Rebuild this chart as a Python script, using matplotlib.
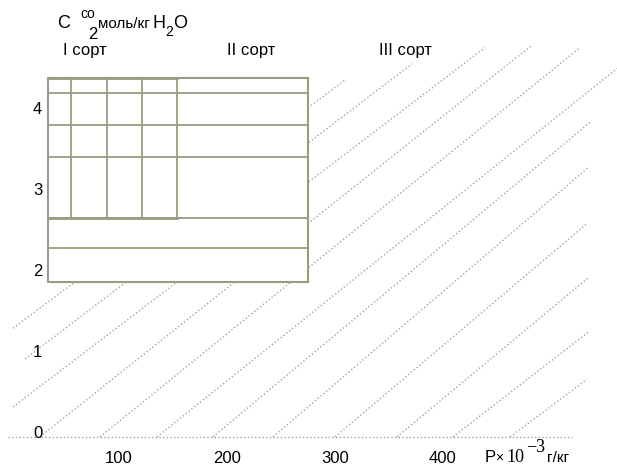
import matplotlib
matplotlib.use('Agg')
import matplotlib.pyplot as plt
from matplotlib.patches import Rectangle

plt.rcParams['font.family'] = ['Liberation Sans', 'DejaVu Sans']

# axis ticks
x_ticks = [100, 200, 300, 400]
y_ticks = [0, 1, 2, 3, 4]

# dotted diagonal lines: start and end points
line_x0 = [1.9, 13.0, 1.9, 26.9, 82.5, 135.3, 187.2, 242.8, 300.3, 357.7, 409.6, 462.5]
line_y0 = [1.28, 0.90, 0.31, -0.06, -0.06, -0.06, -0.06, -0.06, -0.06, -0.06, -0.06, -0.06]
line_x1 = [309.5, 371.6, 439.3, 482.9, 527.3, 573.7, 536.6, 534.8, 533.8, 534.8, 534.8, 533.8]
line_y1 = [4.34, 4.54, 4.74, 4.77, 4.74, 4.61, 3.82, 3.26, 2.57, 1.90, 1.23, 0.65]

# baseline
base_x = [-2.8, 520.0]
base_y = [-0.062, -0.062]

# table (rectangle grid)
rect_x = [34, 275]
rect_y = [1.85, 4.36]
row_lines = [4.18, 3.79, 3.39, 2.64, 2.27]
sub_cols = [56, 89, 121, 154]
sub_bottom = 2.64

# sort labels
sort_names = ['I сорт', 'II сорт', 'III сорт']
sort_x = [68.6, 222.4, 366.0]
sort_y = 4.71

grid_col = '#9b9b82'
dot_col = '#a5a58f'

fig = plt.figure(figsize=(6.17, 4.66), dpi=100)
ax = fig.add_axes([0, 0, 1, 1])
ax.set_xlim(-10.19, 561.6)
ax.set_ylim(-0.419, 5.327)

for x0, y0, x1, y1 in zip(line_x0, line_y0, line_x1, line_y1):
    ax.plot([x0, x1], [y0, y1], ls=':', lw=1.0, color=dot_col, zorder=1)
ax.plot(base_x, base_y, ls=':', lw=1.0, color=dot_col, zorder=1)

# white table covering the lines
ax.add_patch(Rectangle((rect_x[0], rect_y[0]), rect_x[1] - rect_x[0], rect_y[1] - rect_y[0],
                       facecolor='white', edgecolor=grid_col, lw=1.5, zorder=3))
for yy in row_lines:
    ax.plot(rect_x, [yy, yy], color=grid_col, lw=1.3, zorder=4)
for xx in sub_cols:
    ax.plot([xx, xx], [sub_bottom, rect_y[1]], color=grid_col, lw=1.3, zorder=4)
ax.plot([rect_x[0], sub_cols[-1]], [sub_bottom, sub_bottom], color=grid_col, lw=2.0, zorder=4)
ax.plot([rect_x[0], sub_cols[-1]], [rect_y[1], rect_y[1]], color=grid_col, lw=2.0, zorder=4)

# axes as positioned spines (lines hidden)
ax.spines['left'].set_position(('data', rect_x[0]))
ax.spines['bottom'].set_position(('data', base_y[0]))
for s in ['left', 'bottom', 'top', 'right']:
    ax.spines[s].set_color('none')
ax.set_xticks(x_ticks)
ax.set_yticks(y_ticks)
ax.tick_params(axis='x', length=0, pad=10, labelsize=12)
ax.tick_params(axis='y', length=0, pad=4, labelsize=12)

for name, xx in zip(sort_names, sort_x):
    ax.text(xx, sort_y, name, ha='center', va='center', fontsize=12, zorder=5)

# y axis title: C^co_2 моль/кг H2O
ax.text(42.6, 4.98, 'C', ha='left', va='baseline', fontsize=13)
ax.text(63.9, 5.105, 'co', ha='left', va='baseline', fontsize=10)
ax.text(71.4, 4.846, '2', ha='left', va='baseline', fontsize=12)
ax.text(80.6, 4.98, 'моль/кг', ha='left', va='baseline', fontsize=11)
ax.text(131.5, 4.98, 'H', ha='left', va='baseline', fontsize=13)
ax.text(143.2, 4.88, '2', ha='left', va='baseline', fontsize=10)
ax.text(149.8, 4.98, 'O', ha='left', va='baseline', fontsize=13)

# x axis title: P x 10^-3 г/кг
ax.text(439.3, -0.37, 'P', ha='left', va='baseline', fontsize=12)
ax.text(448.5, -0.37, '×', ha='left', va='baseline', fontsize=10)
ax.text(459.0, -0.37, '10', ha='left', va='baseline', fontsize=13, family='Liberation Serif')
ax.text(477.5, -0.25, '−3', ha='left', va='baseline', fontsize=13, family='Liberation Serif')
ax.text(497.0, -0.37, 'г/кг', ha='left', va='baseline', fontsize=11)

fig.savefig('out.png', dpi=100)
